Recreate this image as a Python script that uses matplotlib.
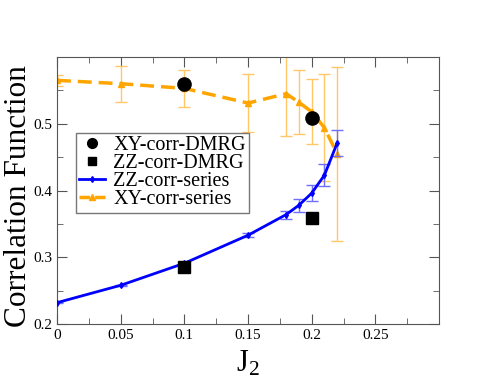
import numpy as np
import matplotlib.pyplot as plt
from matplotlib.ticker import MultipleLocator
from matplotlib.lines import Line2D

plt.rcParams['font.family'] = ['Liberation Serif', 'DejaVu Serif']
plt.rcParams['mathtext.fontset'] = 'custom'
plt.rcParams['mathtext.rm'] = 'Liberation Serif'
plt.rcParams['mathtext.it'] = 'Liberation Serif'

# series data
zz_x = [0.0, 0.05, 0.1, 0.15, 0.18, 0.19, 0.2, 0.21, 0.22]
zz_y = [0.232, 0.258, 0.291, 0.333, 0.364, 0.378, 0.396, 0.423, 0.471]
zz_err = [0.001, 0.001, 0.002, 0.003, 0.006, 0.010, 0.012, 0.017, 0.020]

xy_x = [0.0, 0.05, 0.1, 0.15, 0.18, 0.19, 0.2, 0.21, 0.22]
xy_y = [0.565, 0.560, 0.553, 0.531, 0.545, 0.532, 0.518, 0.494, 0.455]
xy_err = [0.008, 0.027, 0.028, 0.043, 0.064, 0.048, 0.049, 0.080, 0.130]

# DMRG points
dmrg_x = [0.1, 0.2]
xy_dmrg = [0.560, 0.508]
zz_dmrg = [0.286, 0.359]

fig = plt.figure(figsize=(4.94, 3.82), dpi=100)
ax = fig.add_axes([0.1154, 0.1518, 0.7733, 0.699])

ax.plot(dmrg_x, xy_dmrg, 'o', color='black', ms=9.5, zorder=5)
ax.plot(dmrg_x, zz_dmrg, 's', color='black', ms=8.5, zorder=5)

ax.errorbar(zz_x, zz_y, yerr=zz_err, color='#0000ff', lw=2, marker='d', ms=3,
            ecolor='#6f6fff', elinewidth=1, capsize=4, zorder=3)
ax.errorbar(xy_x, xy_y, yerr=xy_err, color='#ffa500', lw=2.5, ls=(0, (4, 2)), marker='^', ms=4,
            ecolor='#ffc766', elinewidth=1, capsize=4, zorder=2)

ax.set_xlim(0, 0.3)
ax.set_ylim(0.2, 0.6)
ax.set_xticks([0, 0.05, 0.1, 0.15, 0.2, 0.25])
ax.set_xticklabels(['0', '0.05', '0.1', '0.15', '0.2', '0.25'])
ax.set_yticks([0.2, 0.3, 0.4, 0.5])
ax.set_yticklabels(['0.2', '0.3', '0.4', '0.5'])
ax.xaxis.set_minor_locator(MultipleLocator(0.025))
ax.yaxis.set_minor_locator(MultipleLocator(0.05))
ax.tick_params(which='both', direction='in', top=True, right=True, labelsize=11, color='#555555')
ax.tick_params(which='major', length=7)
ax.tick_params(which='minor', length=4)
for s in ax.spines.values():
    s.set_color('#555555')

ax.set_xlabel('J$_2$', fontsize=22, labelpad=5)
ax.set_ylabel('Correlation Function', fontsize=22.5)
ax.yaxis.set_label_coords(-0.062, 0.48)

handles = [
    Line2D([], [], ls='none', marker='o', color='black', ms=7),
    Line2D([], [], ls='none', marker='s', color='black', ms=5.5),
    Line2D([], [], color='#0000ff', lw=2, marker='d', ms=3, markevery=[0, -1]),
    Line2D([], [], color='#ffa500', lw=2.5, ls=(0, (3, 1.5)), marker='^', ms=4, markevery=[-1]),
]
labels = ['XY-corr-DMRG', 'ZZ-corr-DMRG', 'ZZ-corr-series', 'XY-corr-series']
leg = ax.legend(handles, labels, loc='upper left', bbox_to_anchor=(0.05, 0.715), fontsize=14.5,
                frameon=True, fancybox=False, handlelength=1.3, handletextpad=0.4, borderpad=0.15,
                labelspacing=-0.05, borderaxespad=0)
leg.get_frame().set_edgecolor('#555555')
leg.get_frame().set_linewidth(1)

fig.savefig('out.png', dpi=100)
